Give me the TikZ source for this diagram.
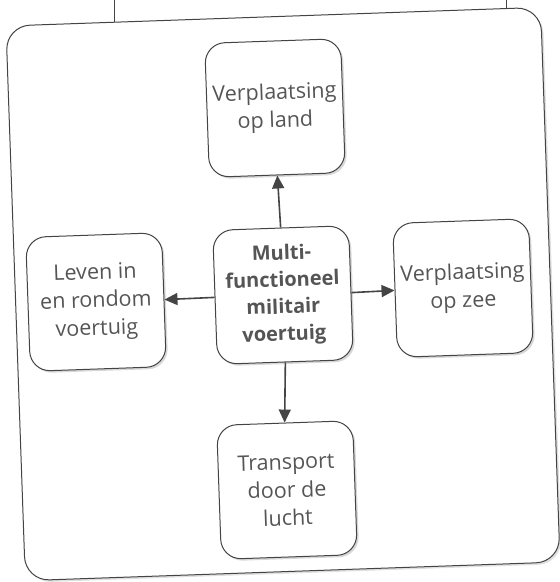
\documentclass[tikz,border=0pt]{standalone}
\usepackage{fontspec}
\setmainfont{Open Sans}
\usetikzlibrary{arrows.meta,shadows}
\definecolor{ln}{HTML}{444444}
\definecolor{tx}{HTML}{555555}
\begin{document}
\begin{tikzpicture}[x=1pt,y=-1pt,
  frame/.style={draw=ln, line width=1pt, rounded corners=24pt, fill=white,
    minimum width=535pt, minimum height=555pt, rotate=2,
    drop shadow={shadow xshift=2pt, shadow yshift=-2pt, opacity=0.25}},
  box/.style={draw=ln, line width=1pt, rounded corners=20pt, fill=white,
    minimum width=136pt, minimum height=134pt, rotate=2, align=center,
    text=tx, inner sep=1pt, font=\fontsize{21.5}{28}\selectfont,
    drop shadow={shadow xshift=2pt, shadow yshift=-2pt, opacity=0.3}},
  mainbox/.style={box, font=\bfseries\fontsize{20}{27}\selectfont},
  arr/.style={draw=ln, line width=1.6pt, -{Triangle[length=13pt,width=12pt]}},
  leg/.style={draw=ln, line width=1pt}]
\useasboundingbox (0,0) rectangle (560,582);
\coordinate (l1) at (114,-2);
\coordinate (l1b) at (114,23);
\coordinate (l2) at (506,-2);
\coordinate (l2b) at (506,9.5);
\draw[leg] (l1) -- (l1b);
\draw[leg] (l2) -- (l2b);
\node[frame] (fr) at (283,294) {};
\node[box] (land) at (275,108) {Verplaatsing\\op land};
\node[mainbox] (mid) at (283,295) {Multi-\\functioneel\\militair\\voertuig};
\node[box] (leven) at (96,302) {Leven in\\en rondom\\voertuig};
\node[box] (zee) at (463,288) {Verplaatsing\\op zee};
\node[box] (lucht) at (287,490) {Transport\\door de\\lucht};
\draw[arr] (mid.north) -- (land.south);
\draw[arr] (mid.west) -- (leven.east);
\draw[arr] (mid.east) -- (zee.west);
\draw[arr] (mid.south) -- (lucht.north);
\end{tikzpicture}
\end{document}
